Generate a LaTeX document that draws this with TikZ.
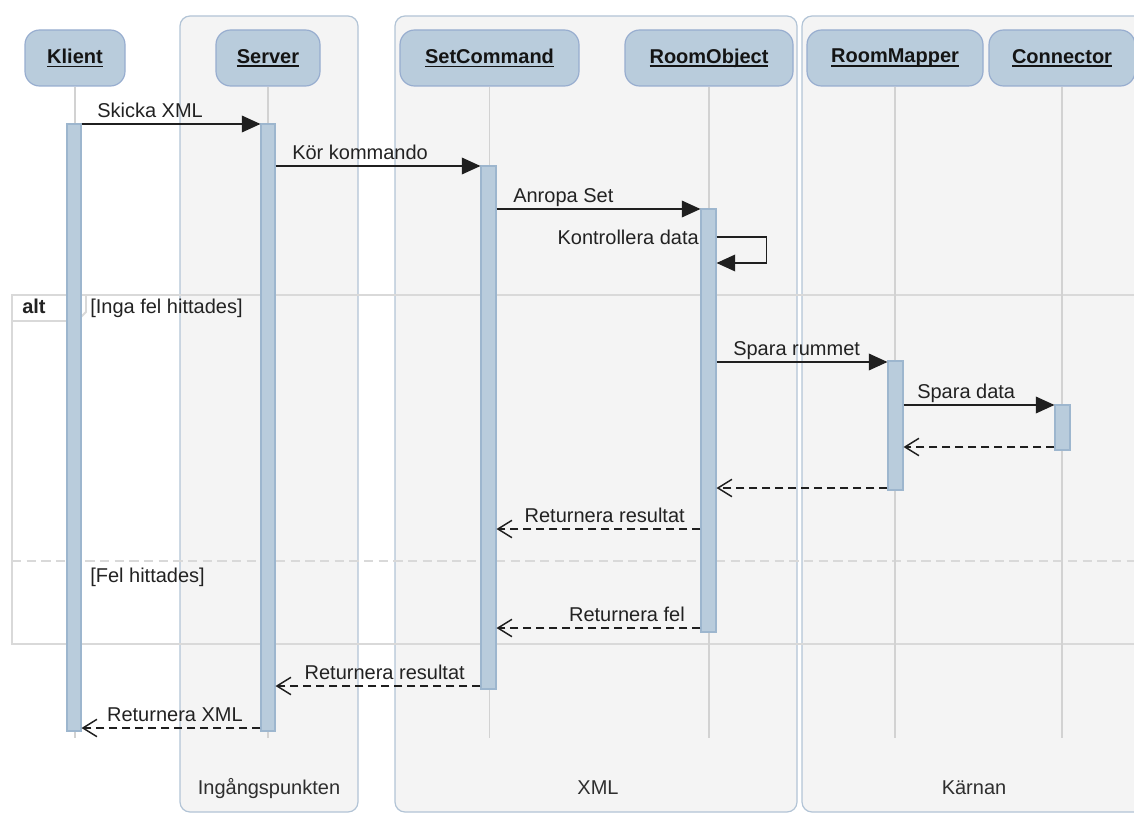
\documentclass[tikz,border=0pt]{standalone}
\usepackage{fontspec}
\setmainfont{Liberation Sans}
\usetikzlibrary{arrows.meta,fit}

\definecolor{poolfill}{HTML}{F4F4F4}
\definecolor{poolline}{HTML}{B2C4D6}
\definecolor{headfill}{HTML}{B9CCDC}
\definecolor{headline}{HTML}{97ADCF}
\definecolor{barline}{HTML}{9DB6CE}
\definecolor{lifegray}{HTML}{D2D2D2}
\definecolor{framegray}{HTML}{D9D9D9}
\definecolor{textgray}{HTML}{222222}
\definecolor{titlegray}{HTML}{2E2E2E}

% underline at a fixed depth, independent of descenders
\newcommand\hdul[1]{\setbox0\hbox{#1}\rlap{\rule[-2.8pt]{\wd0}{1.1pt}}\box0}

\begin{document}
\begin{tikzpicture}[x=0.75pt,y=-0.75pt,
  font=\fontsize{15}{18}\selectfont,
  pool/.style={draw=poolline, line width=0.9pt, fill=poolfill, rounded corners=7.5pt, inner sep=0pt},
  head/.style={draw=headline, line width=0.9pt, fill=headfill, rounded corners=11pt, inner sep=0pt},
  headtext/.style={text=black!92, font=\fontsize{15}{18}\selectfont\bfseries},
  bar/.style={draw=barline, line width=0.8pt, fill=headfill, inner sep=0pt},
  life/.style={draw=lifegray, line width=1pt},
  call/.style={draw=black!88, line width=1.1pt, -{Triangle[length=14pt,width=12.5pt]}},
  reply/.style={draw=black!88, line width=1.1pt, dash pattern=on 6pt off 3.75pt,
                -{Straight Barb[length=10.5pt,width=13pt,line width=1.1pt]}},
  lbl/.style={inner sep=0pt, text=textgray},
  frameline/.style={draw=framegray, line width=1.4pt},
  sepline/.style={draw=framegray, line width=1.1pt, dash pattern=on 7pt off 4pt},
  pooltitle/.style={inner sep=0pt, text=titlegray, anchor=base}
]
\useasboundingbox (0,0) rectangle (1134,813);
\clip (0,0) rectangle (1134,813);

% swimlane pools
\node[pool, fit={(180,16)(358,812)}] (entry) {};
\node[pool, fit={(395,16)(797,812)}] (xmlpool) {};
\node[pool, fit={(802,16)(1146,812)}] (core) {};

\coordinate (bl) at (0,794);
\node[pooltitle] (entrytitle) at (entry.south |- bl) {Ingångspunkten};
\node[pooltitle] (xmltitle) at ([xshift=1.5pt]xmlpool.south |- bl) {XML};
\node[pooltitle] (coretitle) at (core.south |- bl) {Kärnan};

% alt combined fragment
\draw[frameline] (1150,295) -- (12,295) -- (12,644) -- (1150,644);
\draw[sepline] (12,561) -- (1150,561);
\draw[frameline, fill=white] (12,295) -- (86,295) -- (86,312) -- (77,321) -- (12,321) -- cycle;
\node[lbl, anchor=base west, font=\fontsize{15}{18}\selectfont\bfseries] (altlbl) at (22,313) {alt};
\node[lbl, anchor=base west] (guard1) at (90,313) {[Inga fel hittades]};
\node[lbl, anchor=base west] (guard2) at (90,582) {[Fel hittades]};

% participant heads
\node[head, fit={(25,30)(125,86)}, label={[headtext]center:\hdul{Klient}}] (klient) {};
\node[head, fit={(216,30)(320,86)}, label={[headtext]center:\hdul{Server}}] (server) {};
\node[head, fit={(400,30)(579,86)}, label={[headtext]center:\hdul{SetCommand}}] (setcmd) {};
\node[head, fit={(625,30)(793,86)}, label={[headtext]center:\hdul{RoomObject}}] (roomobj) {};
\node[head, fit={(807,30)(983,86)}, label={[headtext]center:\hdul{RoomMapper}}] (roommap) {};
\node[head, fit={(989,30)(1135,86)}, label={[headtext]center:\hdul{Connector}}] (connector) {};

% lifelines
\coordinate (lifeend) at (0,738);
\foreach \p in {klient,server,setcmd,roomobj,roommap,connector}
  \draw[life] (\p.south) -- (\p.south |- lifeend);

% activation bars
\node[bar, fit={(67,124)(81,731)}] (klbar) {};
\node[bar, fit={(261,124)(275,731)}] (srvbar) {};
\node[bar, fit={(481,166)(496,689)}] (scbar) {};
\node[bar, fit={(701,209)(716,632)}] (robar) {};
\node[bar, fit={(888,361)(903,490)}] (rmbar) {};
\node[bar, fit={(1055,405)(1070,450)}] (cnbar) {};

% message rows
\coordinate (r1) at (0,124);
\coordinate (r2) at (0,166);
\coordinate (r3) at (0,209);
\coordinate (r4a) at (0,237);
\coordinate (r4b) at (0,263);
\coordinate (r5) at (0,362);
\coordinate (r6) at (0,405);
\coordinate (r7) at (0,447);
\coordinate (r8) at (0,488);
\coordinate (r9) at (0,529);
\coordinate (r10) at (0,628);
\coordinate (r11) at (0,686);
\coordinate (r12) at (0,728);

% calls
\draw[call] (klbar.east |- r1) -- node[lbl, pos=0, anchor=base west, shift={(15,-6.5)}] {Skicka XML} (srvbar.west |- r1);
\draw[call] (srvbar.east |- r2) -- node[lbl, pos=0, anchor=base west, shift={(16,-6.5)}] {Kör kommando} (scbar.west |- r2);
\draw[call] (scbar.east |- r3) -- node[lbl, pos=0, anchor=base west, shift={(16,-6.5)}] {Anropa Set} (robar.west |- r3);
\draw[call] (robar.east |- r4a) -- node[lbl, pos=0, anchor=base east, shift={(-17,7)}] {Kontrollera data} ++(50,0) |- (robar.east |- r4b);
\draw[call] (robar.east |- r5) -- node[lbl, pos=0, anchor=base west, shift={(16,-6.5)}] {Spara rummet} (rmbar.west |- r5);
\draw[call] (rmbar.east |- r6) -- node[lbl, pos=0, anchor=base west, shift={(13,-6.5)}] {Spara data} (cnbar.west |- r6);

% replies
\draw[reply] (cnbar.west |- r7) -- (rmbar.east |- r7);
\draw[reply] (rmbar.west |- r8) -- (robar.east |- r8);
\draw[reply] (robar.west |- r9) -- node[lbl, pos=0, anchor=base east, shift={(-15,-6.5)}] {Returnera resultat} (scbar.east |- r9);
\draw[reply] (robar.west |- r10) -- node[lbl, pos=0, anchor=base east, shift={(-15,-6.5)}] {Returnera fel} (scbar.east |- r10);
\draw[reply] (scbar.west |- r11) -- node[lbl, pos=0, anchor=base east, shift={(-15,-6.5)}] {Returnera resultat} (srvbar.east |- r11);
\draw[reply] (srvbar.west |- r12) -- node[lbl, pos=0, anchor=base east, shift={(-17,-6.5)}] {Returnera XML} (klbar.east |- r12);
\end{tikzpicture}
\end{document}
